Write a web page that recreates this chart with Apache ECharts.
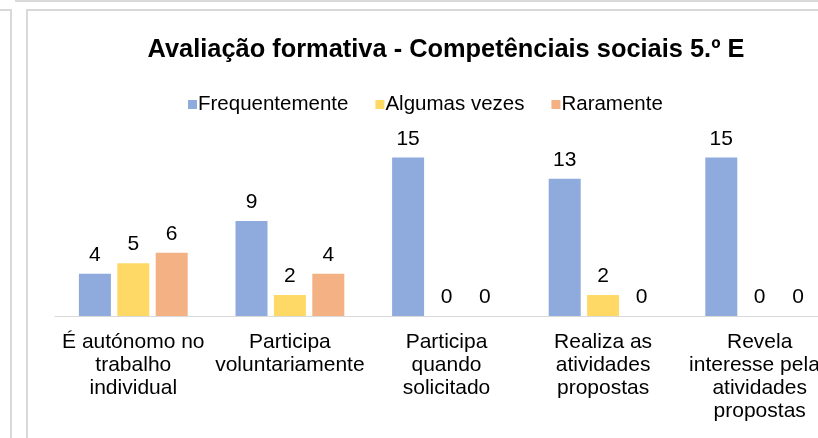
<!DOCTYPE html>
<html>
<head>
<meta charset="utf-8">
<script src="https://cdn.jsdelivr.net/npm/echarts@6/dist/echarts.min.js"></script>
<style>
  html, body { margin: 0; padding: 0; background: #fff; }
  #chart { width: 818px; height: 438px; }
</style>
</head>
<body>
<div id="chart"></div>
<script>
// dados
const categories = [
  'É autónomo no\ntrabalho\nindividual',
  'Participa\nvoluntariamente',
  'Participa\nquando\nsolicitado',
  'Realiza as\natividades\npropostas',
  'Revela\ninteresse pelas\natividades\npropostas'
]
const frequentemente = [4, 9, 15, 13, 15]
const algumasVezes = [5, 2, 0, 2, 0]
const raramente = [6, 4, 0, 0, 0]
const seriesNames = ['Frequentemente', 'Algumas vezes', 'Raramente']

const COLORS = ['#8FAADC', '#FFD966', '#F4B183']
const FONT = 'Liberation Sans, Arial, sans-serif'

const chart = echarts.init(document.getElementById('chart'), null, { renderer: 'canvas' })

function barSeries(name, data, color) {
  return {
    name,
    type: 'bar',
    data,
    barWidth: 32,
    barGap: '20%',
    itemStyle: { color },
    label: {
      show: true,
      position: 'top',
      distance: 8,
      color: '#000',
      fontSize: 21,
      fontFamily: FONT
    }
  }
}

// moldura cinzenta do documento (não são dados)
const frame = { stroke: '#D9D9D9', lineWidth: 2 }

chart.setOption({
  animation: false,
  title: {
    text: 'Avaliação formativa - Competênciais sociais 5.º E',
    left: 441,
    textAlign: 'center',
    top: 32,
    textStyle: { fontSize: 25.4, fontWeight: 'bold', color: '#000', fontFamily: FONT }
  },
  legend: {
    data: seriesNames,
    left: 183,
    top: 89,
    icon: 'rect',
    itemWidth: 9,
    itemHeight: 9,
    itemGap: 27,
    textStyle: { fontSize: 20.5, color: '#000', fontFamily: FONT, padding: [0, 0, 0, -4] }
  },
  // o gráfico original está cortado à direita
  grid: { left: 55, right: -20, top: 147, bottom: 122, outerBoundsMode: 'none', containLabel: false },
  xAxis: {
    type: 'category',
    data: categories,
    axisLine: { lineStyle: { color: '#D9D9D9', width: 1 } },
    axisTick: { show: false },
    axisLabel: {
      interval: 0,
      margin: 15,
      color: '#000',
      fontSize: 21,
      lineHeight: 23,
      fontFamily: FONT,
      align: 'center'
    }
  },
  yAxis: {
    type: 'value',
    min: 0,
    max: 16,
    show: false
  },
  series: [
    barSeries(seriesNames[0], frequentemente, COLORS[0]),
    barSeries(seriesNames[1], algumasVezes, COLORS[1]),
    barSeries(seriesNames[2], raramente, COLORS[2])
  ],
  graphic: [
    { type: 'line', shape: { x1: 15, y1: 1, x2: 818, y2: 1 }, style: frame },
    { type: 'polyline', shape: { points: [[0, 10], [11, 10], [11, 438]] }, style: frame },
    { type: 'polyline', shape: { points: [[27, 438], [27, 10], [818, 10]] }, style: frame }
  ]
})
</script>
</body>
</html>
